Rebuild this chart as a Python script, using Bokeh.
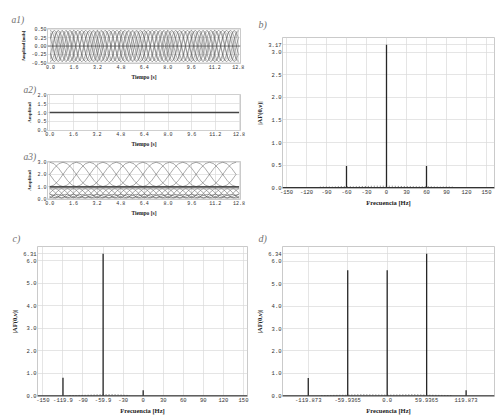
from bokeh.plotting import figure
from bokeh.layouts import column, row
from bokeh.models import Range1d, FixedTicker, Span
from bokeh.embed import file_html
from bokeh.resources import INLINE

# ---------------- data ----------------
TIME_TICKS = [0.0, 1.6, 3.2, 4.8, 6.4, 8.0, 9.6, 11.2, 12.8]
TIME_LABELS = ["0.0", "1.6", "3.2", "4.8", "6.4", "8.0", "9.6", "11.2", "12.8"]

# a1: periods of the traces (12 samples / period), traces are shifted copies
A1_PERIOD = [0.47, 0.41, 0.24, 0.0, -0.24, -0.41, -0.47, -0.41, -0.24, 0.0, 0.24, 0.41]
A1_PERIOD_S = 1.6
A1_SHIFTS = [0, 2, 4, 6, 8, 10]
A1_PERIOD2 = [0.44, 0.38, 0.22, 0.0, -0.22, -0.38, -0.44, -0.38, -0.22, 0.0, 0.22, 0.38]
A1_PERIOD2_S = 1.2
A1_SHIFTS2 = [1, 4, 7, 10]
A1_YTICKS = [-0.5, -0.25, 0.0, 0.25, 0.5]
A1_YLABELS = ["-0.50", "-0.25", "0.00", "0.25", "0.50"]

# a2: constant amplitude
A2_T = [0.0, 12.8]
A2_V = [1.0, 1.0]
A2_YTICKS = [0.0, 0.5, 1.0, 1.5, 2.0]
A2_YLABELS = ["0.0", "0.5", "1.0", "1.5", "2.0"]

# a3: upper lattice, lower dense band, flat lines
A3_UP_PERIOD = [3.0, 2.87, 2.5, 2.0, 1.5, 1.13, 1.0, 1.13, 1.5, 2.0, 2.5, 2.87]
A3_UP_PERIOD_S = 3.6
A3_UP_SHIFTS = [0, 3, 6, 9]
A3_LOW_PERIOD = [0.82, 0.77, 0.63, 0.45, 0.27, 0.12, 0.07, 0.12, 0.27, 0.45, 0.63, 0.77]
A3_LOW_PERIOD_S = 1.6
A3_LOW_SHIFTS = [0, 3, 6, 9]
A3_LOW2_PERIOD = [0.36, 0.34, 0.29, 0.22, 0.15, 0.09, 0.07, 0.09, 0.15, 0.22, 0.29, 0.34]
A3_LOW2_SHIFTS = [0, 4, 8]
A3_FLAT = [1.0, 0.9]
A3_YTICKS = [0.0, 1.0, 2.0, 3.0]
A3_YLABELS = ["0.0", "1.0", "2.0", "3.0"]

# b: spectrum
B_FREQ = [-60.0, 0.0, 60.0]
B_MAG = [0.48, 3.17, 0.48]
B_NOISE_F = [-100, -90, -80, -70, -60, -50, -40, -30, -20, -10, 0, 10, 20, 30, 40, 50, 60, 70, 80, 90, 100]
B_NOISE_V = [0.01, 0.015, 0.01, 0.02, 0.02, 0.015, 0.02, 0.025, 0.03, 0.03, 0.03, 0.03, 0.025, 0.02,
             0.02, 0.015, 0.02, 0.015, 0.01, 0.015, 0.01]
B_XTICKS = [-150, -120, -90, -60, -30, 0, 30, 60, 90, 120, 150]
B_XLABELS = ["-150", "-120", "-90", "-60", "-30", "0", "30", "60", "90", "120", "150"]
B_YTICKS = [0.0, 0.5, 1.0, 1.5, 2.0, 2.5, 3.0, 3.17]
B_YLABELS = ["0.0", "0.5", "1.0", "1.5", "2.0", "2.5", "3.0", "3.17"]

# c: spectrum
C_FREQ = [-119.9, -59.9, 0.0]
C_MAG = [0.8, 6.31, 0.25]
C_NOISE_F = [-110, -100, -90, -80, -70, -60, -50, -40, -30, -20]
C_NOISE_V = [0.01, 0.015, 0.02, 0.03, 0.04, 0.05, 0.05, 0.045, 0.03, 0.01]
C_XTICKS = [-150, -119.9, -90, -59.9, -30, 0, 30, 60, 90, 120, 150]
C_XLABELS = ["-150", "-119.9", "-90", "-59.9", "-30", "0", "30", "60", "90", "120", "150"]
C_YTICKS = [0.0, 1.0, 2.0, 3.0, 4.0, 5.0, 6.0, 6.31]
C_YLABELS = ["0.0", "1.0", "2.0", "3.0", "4.0", "5.0", "6.0", "6.31"]

# d: spectrum
D_FREQ = [-119.873, -59.9365, 0.0, 59.9365, 119.873]
D_MAG = [0.8, 5.6, 5.6, 6.34, 0.25]
D_NOISE_F = [-100, -80, -60, -40, -20, 0, 20, 40, 60, 80, 100]
D_NOISE_V = [0.01, 0.02, 0.03, 0.05, 0.04, 0.03, 0.04, 0.05, 0.03, 0.02, 0.01]
D_XTICKS = [-119.873, -59.9365, 0.0, 59.9365, 119.873]
D_XLABELS = ["-119.873", "-59.9365", "0.0", "59.9365", "119.873"]
D_YTICKS = [0.0, 1.0, 2.0, 3.0, 4.0, 5.0, 6.0, 6.34]
D_YLABELS = ["0.0", "1.0", "2.0", "3.0", "4.0", "5.0", "6.0", "6.34"]

# ---------------- helpers ----------------
def tile(period, shift, n):
    return [period[(i + shift) % len(period)] for i in range(n)]


def times(period_s, n_per, end):
    step = period_s / n_per
    n = int(end / step + 1e-9) + 1
    return [i * step for i in range(n)]


def make_fig(w, h, mbl, mbr, mbt, mbb, xr, yr):
    p = figure(width=w, height=h, x_range=Range1d(*xr), y_range=Range1d(*yr),
               output_backend="svg", toolbar_location=None)
    p.min_border_left = mbl
    p.min_border_right = mbr
    p.min_border_top = mbt
    p.min_border_bottom = mbb
    p.background_fill_color = "white"
    p.border_fill_color = "white"
    p.outline_line_color = "#bdbdbd"
    p.outline_line_width = 0.8
    return p


def style(p, xt, xl, yt, yl, xlabel, ylabel, tick_size, xlab_size, ylab_size):
    p.xaxis.ticker = FixedTicker(ticks=xt)
    p.yaxis.ticker = FixedTicker(ticks=yt)
    p.xaxis.major_label_overrides = dict(zip(xt, xl))
    p.yaxis.major_label_overrides = dict(zip(yt, yl))
    p.xaxis.axis_label = xlabel
    p.yaxis.axis_label = ylabel
    for ax in p.xaxis + p.yaxis:
        ax.major_tick_in = 0
        ax.major_tick_out = 0
        ax.minor_tick_in = 0
        ax.minor_tick_out = 0
        ax.axis_line_color = None
        ax.major_label_text_font = "Liberation Mono"
        ax.major_label_text_font_size = tick_size
        ax.major_label_text_color = "#333333"
        ax.major_label_standoff = 1
        ax.axis_label_text_font = "Liberation Serif"
        ax.axis_label_text_font_style = "bold"
        ax.axis_label_text_color = "#222222"
        ax.axis_label_standoff = 2
    p.xaxis.axis_label_text_font_size = xlab_size
    p.yaxis.axis_label_text_font_size = ylab_size
    p.xgrid.grid_line_color = "#dadada"
    p.ygrid.grid_line_color = "#dadada"
    p.xgrid.grid_line_width = 0.7
    p.ygrid.grid_line_width = 0.7


def title_tag(p, text, offset, standoff, size="10px"):
    p.title.text = text
    p.title.align = "left"
    p.title.offset = offset
    p.title.standoff = standoff
    p.title.text_font = "Liberation Serif"
    p.title.text_font_style = "italic"
    p.title.text_font_size = size
    p.title.text_color = "#707070"


TRACE = dict(line_color="#444444", line_width=0.5, line_alpha=0.9)
PEAK = dict(line_color="#262626", line_width=1.3)

# ---------------- a1 ----------------
a1 = make_fig(242, 74, 39, 10, 20, 15, (-0.2, 12.95), (-0.52, 0.52))
style(a1, TIME_TICKS, TIME_LABELS, A1_YTICKS, A1_YLABELS, "Tiempo [s]", "Amplitud [mils]",
      "5px", "5.5px", "4.5px")
t1 = times(A1_PERIOD_S, len(A1_PERIOD), 12.8)
for s in A1_SHIFTS:
    a1.line(t1, tile(A1_PERIOD, s, len(t1)), **TRACE)
t1b = times(A1_PERIOD2_S, len(A1_PERIOD2), 12.8)
for s in A1_SHIFTS2:
    a1.line(t1b, tile(A1_PERIOD2, s, len(t1b)), line_color="#555555", line_width=0.4, line_alpha=0.8)
a1.add_layout(Span(location=0, dimension="width", line_color="#555555", line_width=0.8))
title_tag(a1, "a1)", -36, 7, "9.5px")

# ---------------- a2 ----------------
a2 = make_fig(242, 67, 25, 10, 11, 14, (-0.15, 12.9), (-0.02, 2.02))
style(a2, TIME_TICKS, TIME_LABELS, A2_YTICKS, A2_YLABELS, "Tiempo [s]", "Amplitud",
      "5px", "5.5px", "5px")
a2.line(A2_T, A2_V, line_color="#444444", line_width=1.3)
title_tag(a2, "a2)", -24, 0, "9.5px")

# ---------------- a3 ----------------
a3 = make_fig(242, 69, 25, 10, 11, 19, (-0.15, 12.9), (-0.06, 3.06))
style(a3, TIME_TICKS, TIME_LABELS, A3_YTICKS, A3_YLABELS, "Tiempo [s]", "Amplitud",
      "5px", "5.5px", "5px")
t3u = times(A3_UP_PERIOD_S, len(A3_UP_PERIOD), 12.8)
for s in A3_UP_SHIFTS:
    a3.line(t3u, tile(A3_UP_PERIOD, s, len(t3u)), **TRACE)
t3l = times(A3_LOW_PERIOD_S, len(A3_LOW_PERIOD), 12.8)
for s in A3_LOW_SHIFTS:
    a3.line(t3l, tile(A3_LOW_PERIOD, s, len(t3l)), **TRACE)
for s in A3_LOW2_SHIFTS:
    a3.line(t3l, tile(A3_LOW2_PERIOD, s, len(t3l)), **TRACE)
for v in A3_FLAT:
    a3.line([TIME_TICKS[0], TIME_TICKS[-1]], [v, v], line_color="#333333", line_width=0.9)
title_tag(a3, "a3)", -24, 0, "9.5px")

# ---------------- b ----------------
b = make_fig(247, 210, 32, 3, 29, 30, (-156, 162), (-0.02, 3.33))
style(b, B_XTICKS, B_XLABELS, B_YTICKS, B_YLABELS, "Frecuencia [Hz]", "|AF(0,\u03bd)|",
      "5.5px", "6.5px", "6.5px")
b.add_layout(Span(location=0, dimension="width", line_color="#333333", line_width=1.2))
b.line(B_NOISE_F, B_NOISE_V, line_color="#777777", line_width=1, line_dash="1 2")
b.segment(x0=B_FREQ, y0=[0] * len(B_FREQ), x1=B_FREQ, y1=B_MAG, **PEAK)
title_tag(b, "b)", -24, 16)

# ---------------- c ----------------
c = make_fig(242, 199, 25, 3, 28, 21, (-158, 156), (-0.03, 6.63))
style(c, C_XTICKS, C_XLABELS, C_YTICKS, C_YLABELS, "Frecuencia [Hz]", "|AF(0,\u03bd)|",
      "5.5px", "6.5px", "6.5px")
c.add_layout(Span(location=0, dimension="width", line_color="#333333", line_width=1.2))
c.line(C_NOISE_F, C_NOISE_V, line_color="#777777", line_width=1, line_dash="1 2")
c.segment(x0=C_FREQ, y0=[0] * len(C_FREQ), x1=C_FREQ, y1=C_MAG, **PEAK)
title_tag(c, "c)", -25, 6)

# ---------------- d ----------------
d = make_fig(247, 199, 32, 3, 28, 21, (-159, 163), (-0.03, 6.66))
style(d, D_XTICKS, D_XLABELS, D_YTICKS, D_YLABELS, "Frecuencia [Hz]", "|AF(0,\u03bd)|",
      "5.5px", "6.5px", "6.5px")
d.add_layout(Span(location=0, dimension="width", line_color="#333333", line_width=1.2))
d.line(D_NOISE_F, D_NOISE_V, line_color="#777777", line_width=1, line_dash="1 2")
d.segment(x0=D_FREQ, y0=[0] * len(D_FREQ), x1=D_FREQ, y1=D_MAG, **PEAK)
title_tag(d, "d)", -24, 6)

layout = column(row(column(a1, a2, a3, spacing=0), b, spacing=0), row(c, d, spacing=0), spacing=0)
layout.margin = (8, 0, 0, 8)

open("out.html", "w").write(file_html(layout, INLINE))
